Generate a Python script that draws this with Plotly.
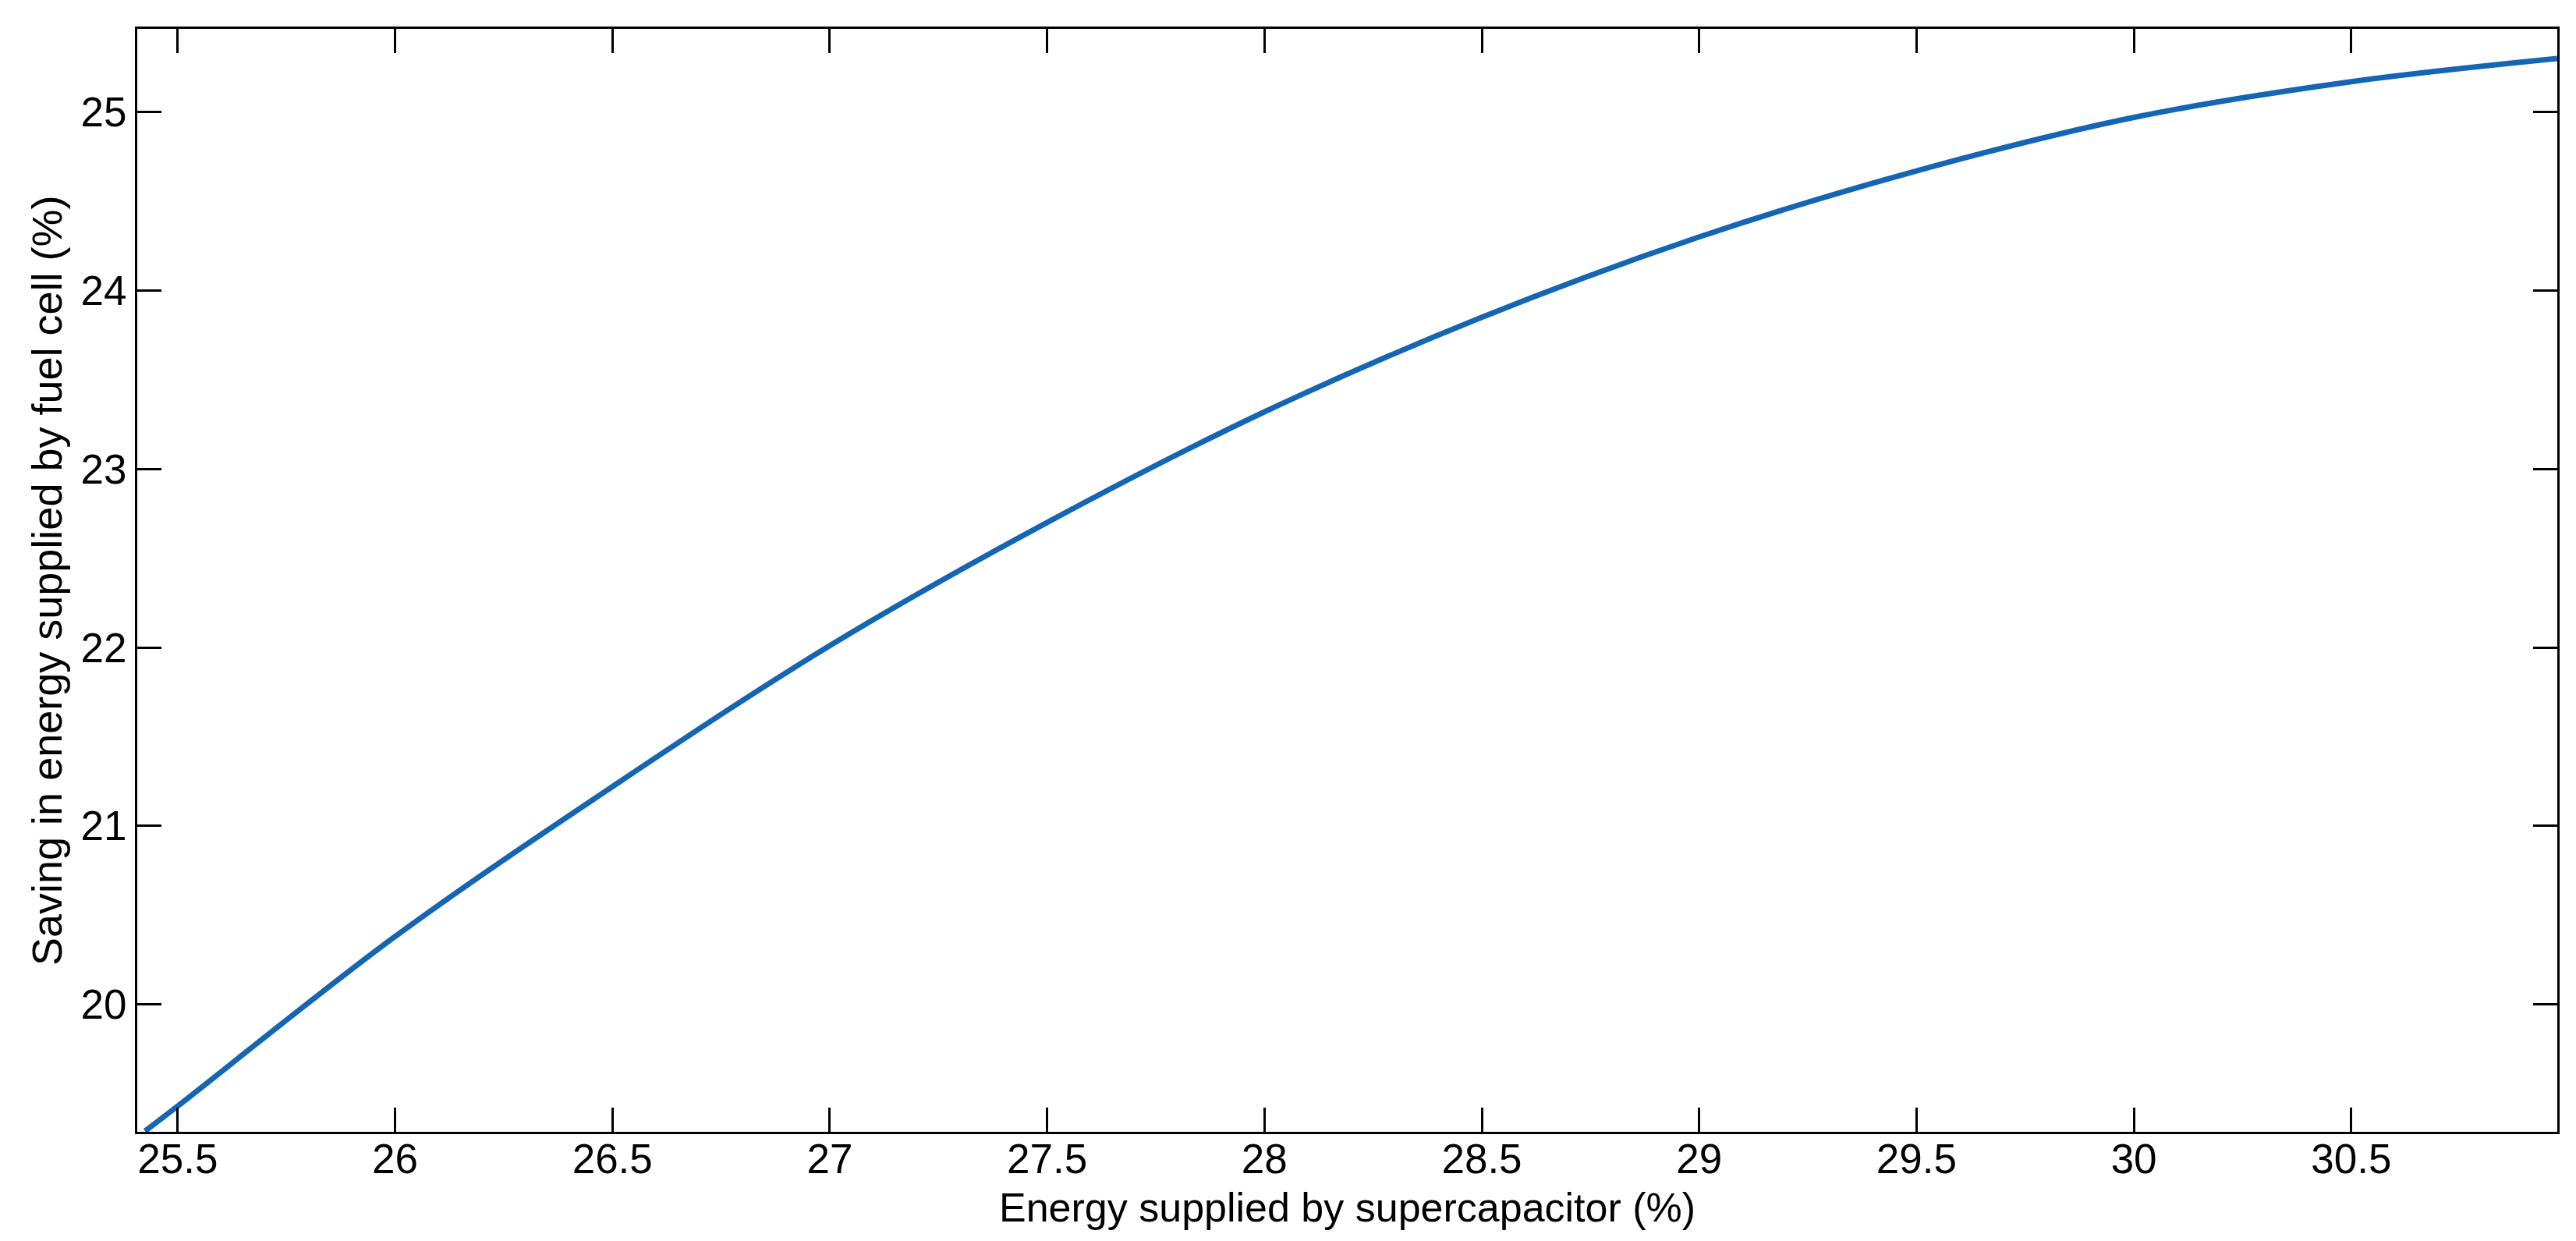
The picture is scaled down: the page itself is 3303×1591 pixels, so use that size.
import plotly.graph_objects as go

# energy supplied by supercapacitor (%) vs saving in fuel cell energy (%)
energy_sc = [25.425, 25.5, 26.0, 26.5, 27.0, 27.5, 28.0, 28.5, 29.0, 29.5, 30.0, 30.5, 30.974]
saving_fc = [19.29, 19.43, 20.38, 21.22, 22.01, 22.70, 23.32, 23.85, 24.30, 24.67, 24.97, 25.17, 25.30]

x_ticks = [25.5, 26, 26.5, 27, 27.5, 28, 28.5, 29, 29.5, 30, 30.5]
y_ticks = [20, 21, 22, 23, 24, 25]

fnt = "Liberation Sans, Arial, Helvetica, sans-serif"

fig = go.Figure()
fig.add_trace(go.Scatter(x=energy_sc, y=saving_fc, mode="lines",
                         line=dict(color="#1466b4", width=7, shape="spline", smoothing=1.0),
                         showlegend=False))

axis_common = dict(showline=True, linecolor="black", linewidth=3, mirror="ticks",
                   ticks="inside", ticklen=31, tickwidth=2.5, tickcolor="black",
                   showgrid=False, zeroline=False,
                   tickfont=dict(family=fnt, size=53, color="black"))

fig.update_xaxes(range=[25.407, 30.974], tickvals=x_ticks, ticklabelstandoff=-14,
                 **axis_common)
fig.update_yaxes(range=[19.286, 25.466], tickvals=y_ticks, **axis_common)

# axis titles placed as annotations (pixel offsets from the plot edges)
fig.add_annotation(text="Energy supplied by supercapacitor (%)", xref="paper", yref="paper",
                   x=0.5, y=0, xanchor="center", yanchor="middle", yshift=-97,
                   showarrow=False, font=dict(family=fnt, size=52, color="black"))
fig.add_annotation(text="Saving in energy supplied by fuel cell (%)", xref="paper", yref="paper",
                   x=0, y=0.5, xanchor="center", yanchor="middle", xshift=-116, textangle=-90,
                   showarrow=False, font=dict(family=fnt, size=54, color="black"))

fig.update_layout(width=3303, height=1591,
                  margin=dict(l=168, r=32, t=29, b=148),
                  paper_bgcolor="white", plot_bgcolor="white",
                  font=dict(family=fnt, color="black"))

fig.write_html("out.html")
